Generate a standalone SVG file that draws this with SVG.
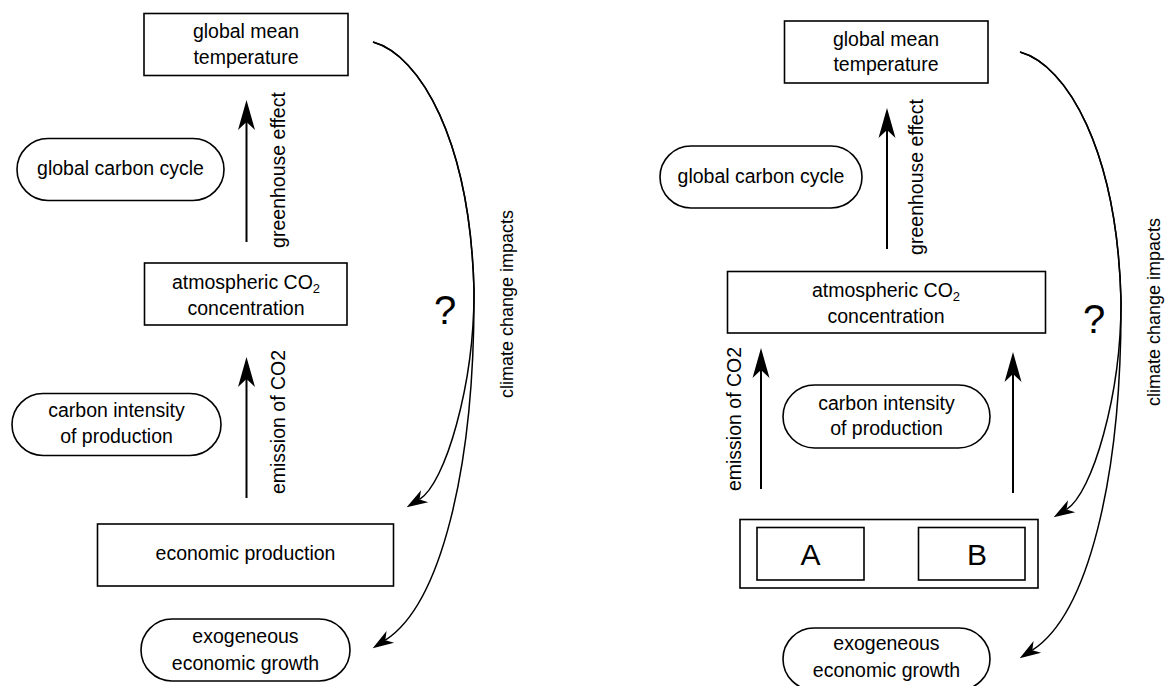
<svg xmlns="http://www.w3.org/2000/svg" width="1166" height="686" viewBox="0 0 1166 686">
<style>
.box{fill:#fff;stroke:#000;stroke-width:1.6}
.t{font-family:"Liberation Sans",Arial,sans-serif;font-size:19.5px;fill:#000;text-anchor:middle}
.lbl{font-family:"Liberation Sans",Arial,sans-serif;font-size:19.5px;fill:#000;text-anchor:middle}
.cl{font-family:"Liberation Sans",Arial,sans-serif;font-size:18px;fill:#000;text-anchor:middle}
.q{font-family:"Liberation Sans",Arial,sans-serif;font-size:40px;fill:#000;text-anchor:middle}
.ab{font-family:"Liberation Sans",Arial,sans-serif;font-size:30px;fill:#000;text-anchor:middle}
.sa{fill:none;stroke:#000;stroke-width:2;marker-end:url(#big)}
.ca{fill:none;stroke:#000;stroke-width:1.5;marker-end:url(#small)}
</style>
<defs>
<marker id="big" markerUnits="userSpaceOnUse" markerWidth="32" markerHeight="20" refX="8" refY="10" orient="auto" overflow="visible"><path d="M0,1.5 L30,10 L0,18.5 L8,10 Z" fill="#000"/></marker>
<marker id="small" markerUnits="userSpaceOnUse" markerWidth="24" markerHeight="16" refX="6" refY="7" orient="auto" overflow="visible"><path d="M0,0 L21,7 L0,14 L6,7 Z" fill="#000"/></marker>
</defs>

<!-- LEFT PANEL -->
<g id="L-gmt"><rect class="box" x="144" y="13.5" width="204" height="62"/><text class="t" x="246" y="38">global mean</text><text class="t" x="246" y="63.5">temperature</text></g>
<g id="L-gcc"><rect class="box" x="17" y="138.5" width="207" height="62" rx="31"/><text class="t" x="120.5" y="175">global carbon cycle</text></g>
<g id="L-atm"><rect class="box" x="144.5" y="263" width="202.5" height="62"/><text class="t" x="246" y="289">atmospheric CO<tspan font-size="13" dy="4">2</tspan></text><text class="t" x="246" y="315">concentration</text></g>
<g id="L-ci"><rect class="box" x="12" y="393.5" width="209" height="62" rx="31"/><text class="t" x="116.5" y="417">carbon intensity</text><text class="t" x="116.5" y="442.5">of production</text></g>
<g id="L-ep"><rect class="box" x="97.5" y="524" width="296" height="62"/><text class="t" x="245.5" y="560">economic production</text></g>
<g id="L-exo"><rect class="box" x="141" y="619" width="209" height="62" rx="31"/><text class="t" x="245.5" y="643">exogeneous</text><text class="t" x="245.5" y="669.5">economic growth</text></g>

<!-- RIGHT PANEL -->
<g id="R-gmt"><rect class="box" x="784.5" y="21" width="203.5" height="62"/><text class="t" x="886" y="46">global mean</text><text class="t" x="886" y="71">temperature</text></g>
<g id="R-gcc"><rect class="box" x="660" y="146" width="202" height="62" rx="31"/><text class="t" x="761" y="182.5">global carbon cycle</text></g>
<g id="R-atm"><rect class="box" x="727.5" y="271.5" width="318" height="61.5"/><text class="t" x="886" y="297">atmospheric CO<tspan font-size="13" dy="4">2</tspan></text><text class="t" x="886" y="322.5">concentration</text></g>
<g id="R-ci"><rect class="box" x="783" y="385" width="207" height="63" rx="31.5"/><text class="t" x="886.5" y="410">carbon intensity</text><text class="t" x="886.5" y="435">of production</text></g>
<g id="R-prod"><rect class="box" x="740" y="519.5" width="298" height="68.5"/>
<g id="R-A"><rect class="box" x="757" y="527.5" width="107" height="52.5"/><text class="ab" x="810.5" y="564.5">A</text></g>
<g id="R-B"><rect class="box" x="918.5" y="527.5" width="106.5" height="52.5"/><text class="ab" x="977" y="564.5">B</text></g></g>
<g id="R-exo"><rect class="box" x="783" y="628" width="207" height="62" rx="31"/><text class="t" x="886.5" y="650">exogeneous</text><text class="t" x="886.5" y="676.5">economic growth</text></g>

<!-- CONNECTORS -->
<g id="connectors">
<line class="sa" x1="246.5" y1="242" x2="246.5" y2="122"/>
<line class="sa" x1="246.5" y1="498" x2="246.5" y2="379"/>
<path class="ca" d="M373,42 C420,55 470,140 474,290 C474.5,385 445,484 419.5,499.4"/>
<path class="ca" d="M373,42 C420,55 470,140 474,290 C475,470 440,605 385.3,640.2"/>
<line class="sa" x1="887" y1="249" x2="887" y2="130"/>
<line class="sa" x1="761" y1="489" x2="761" y2="370"/>
<line class="sa" x1="1013" y1="493" x2="1013" y2="374"/>
<path class="ca" d="M1020,52 C1067,65 1117,150 1121,300 C1121.5,395 1092,494 1066.5,509.4"/>
<path class="ca" d="M1020,52 C1067,65 1117,150 1121,300 C1122,480 1087,615 1032.3,650.2"/>
</g>

<!-- LABELS -->
<g id="labels">
<text class="lbl" transform="translate(285,170) rotate(-90)">greenhouse effect</text>
<text class="lbl" transform="translate(285,422) rotate(-90)">emission of CO2</text>
<text class="cl" transform="translate(513,304) rotate(-90)">climate change impacts</text>
<text class="q" x="445" y="324">?</text>
<text class="lbl" transform="translate(923,177) rotate(-90)">greenhouse effect</text>
<text class="lbl" transform="translate(741,419) rotate(-90)">emission of CO2</text>
<text class="cl" transform="translate(1160,312) rotate(-90)">climate change impacts</text>
<text class="q" x="1094" y="333">?</text>
</g>
</svg>
